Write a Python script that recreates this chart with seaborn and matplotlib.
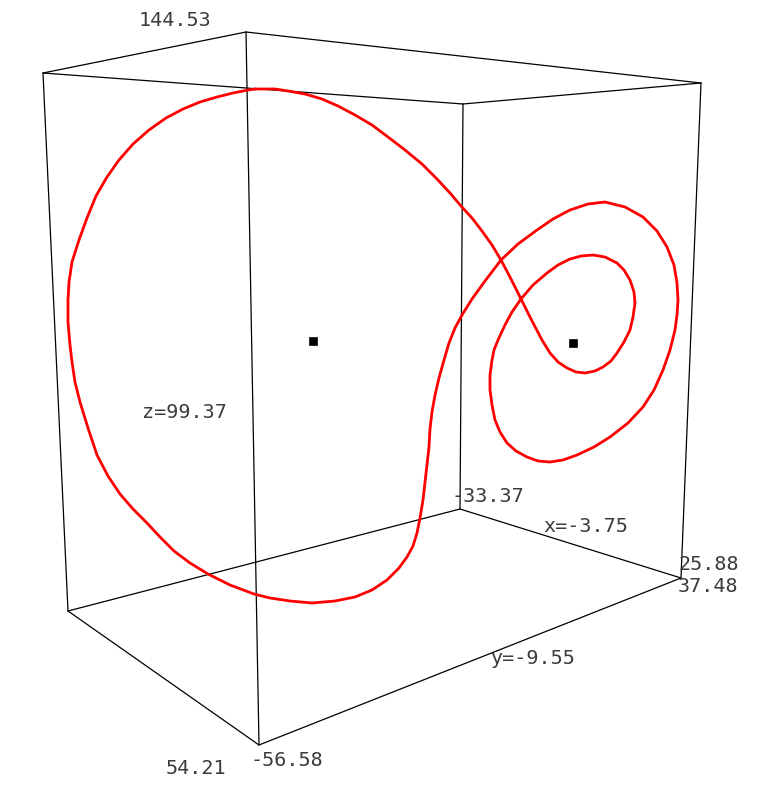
import matplotlib
matplotlib.use("Agg")
import matplotlib.pyplot as plt
import seaborn as sns
import pandas as pd

# axis ranges of the 3d box and their mid values
x_range = [-33.37, 25.88]
y_range = [-56.58, 37.48]
z_range = [54.21, 144.53]
x_mid, y_mid, z_mid = -3.75, -9.55, 99.37

# projected (screen) position of the box corners
corner_u = {"A": 43, "B": 246, "C": 701, "D": 463, "A'": 68, "B'": 259, "C'": 681, "D'": 460}
corner_v = {"A": 73, "B": 32, "C": 83, "D": 104, "A'": 611, "B'": 745, "C'": 578, "D'": 509}
edges = [("A", "B"), ("B", "C"), ("C", "D"), ("D", "A"),
         ("A'", "B'"), ("B'", "C'"), ("C'", "D'"), ("D'", "A'"),
         ("A", "A'"), ("B", "B'"), ("C", "C'"), ("D", "D'")]

# projected trajectory (periodic orbit) as (u, v) pairs, in drawing order
orbit_pts = [
    (255, 89), (265, 89), (275, 89), (288, 91), (305, 94), (322, 99), (338, 106),
    (355, 115), (372, 125), (388, 137), (405, 150), (422, 164), (437, 179),
    (450, 193), (461, 206), (472, 218), (482, 231), (492, 245), (501, 260),
    (511, 279), (521, 299), (531, 319), (542, 340), (550, 353), (558, 362),
    (567, 368), (576, 372), (585, 373), (595, 371), (603, 367), (611, 361),
    (617, 353), (624, 342), (630, 330), (633, 317), (635, 303), (634, 292),
    (630, 280), (624, 270), (617, 263), (605, 257), (593, 255), (581, 256),
    (570, 259), (558, 265), (547, 273), (533, 285), (521, 299), (512, 312),
    (505, 325), (498, 340), (494, 350), (492, 360), (490, 375), (490, 390),
    (492, 405), (495, 420), (500, 432), (507, 443), (516, 451), (527, 457),
    (538, 461), (550, 462), (563, 460), (577, 455), (594, 447), (610, 437),
    (628, 423), (643, 407), (654, 390), (663, 370), (670, 350), (675, 330),
    (677, 315), (678, 300), (677, 283), (674, 265), (667, 247), (657, 231),
    (643, 217), (625, 207), (605, 202), (588, 204), (570, 210), (553, 219),
    (537, 230), (518, 244), (501, 260), (485, 281), (472, 299), (462, 315),
    (455, 328), (449, 343), (444, 360), (439, 378), (435, 395), (432, 412),
    (430, 429), (429, 447), (427, 465), (425, 483), (423, 500), (420, 518),
    (417, 533), (413, 546), (407, 557), (399, 568), (387, 580), (372, 590),
    (355, 597), (335, 601), (312, 603), (290, 601), (270, 598), (254, 594),
    (230, 585), (208, 574), (190, 563), (174, 551), (160, 537), (147, 523),
    (133, 509), (120, 494), (108, 476), (97, 455), (88, 428), (80, 402),
    (75, 382), (72, 362), (70, 345), (68, 322), (68, 300), (69, 282), (72, 262),
    (79, 240), (87, 218), (96, 196), (107, 177), (119, 160), (133, 144),
    (149, 130), (166, 118), (183, 109), (200, 102), (217, 97), (233, 93),
    (248, 90), (255, 89),
]

# fixed points
fixed_u = [313, 573]
fixed_v = [341, 343]

sns.set_style("white")
plt.rcParams["font.family"] = ["DejaVu Sans Mono", "DejaVu Sans"]

fig = plt.figure(figsize=(7.65, 7.87), dpi=100)
ax = fig.add_axes([0, 0, 1, 1])

for a, b in edges:
    ax.plot([corner_u[a], corner_u[b]], [corner_v[a], corner_v[b]],
            color="black", lw=0.9, solid_capstyle="round")

orbit = pd.DataFrame(orbit_pts, columns=["u", "v"])
sns.lineplot(data=orbit, x="u", y="v", sort=False, estimator=None,
             color="#ff0000", lw=2.0, ax=ax, zorder=3)
ax.lines[-1].set_solid_joinstyle("round")

sns.scatterplot(x=fixed_u, y=fixed_v, marker="s", s=36, color="black",
                edgecolor="black", ax=ax, zorder=4)

txt = dict(color="#3c3c3c", fontsize=14.5, va="center")
ax.text(175, 21, f"{z_range[1]:.2f}", ha="center", **txt)
ax.text(196, 769, f"{z_range[0]:.2f}", ha="center", **txt)
ax.text(287, 761, f"{y_range[0]:.2f}", ha="center", **txt)
ax.text(678, 586, f"{y_range[1]:.2f}", ha="left", **txt)
ax.text(452, 497, f"{x_range[0]:.2f}", ha="left", **txt)
ax.text(679, 565, f"{x_range[1]:.2f}", ha="left", **txt)
ax.text(543, 527, f"x={x_mid:.2f}", ha="left", **txt)
ax.text(490, 658, f"y={y_mid:.2f}", ha="left", **txt)
ax.text(142, 413, f"z={z_mid:.2f}", ha="left", **txt)

ax.set_xlim(0, 765)
ax.set_ylim(787, 0)
ax.axis("off")

fig.savefig("out.png", dpi=100)
